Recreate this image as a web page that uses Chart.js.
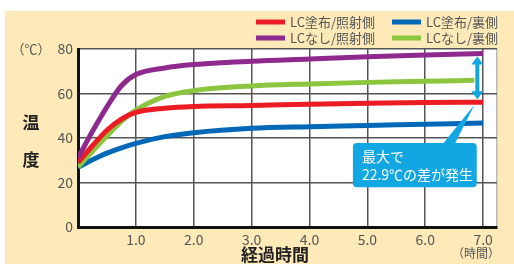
<!DOCTYPE html>
<html>
<head>
<meta charset="utf-8">
<script src="https://cdn.jsdelivr.net/npm/chart.js@4.4.1/dist/chart.umd.min.js"></script>
<style>
	html, body { margin: 0; padding: 0; background: #fff; }
	#wrap { width: 514px; height: 264px; }
</style>
</head>
<body>
<div id="wrap"><canvas id="tempChart" width="514" height="264"></canvas></div>
<script>
// 経過時間 (時間)
const hours = [0, 0.25, 0.5, 0.75, 1.0, 1.5, 2.0, 3.0, 4.0, 5.0, 6.0, 7.0];
const greenHours = [0, 0.25, 0.5, 0.75, 1.0, 1.5, 2.0, 3.0, 4.0, 5.0, 6.0, 6.85];

// 温度 (℃)
const lcIrradiated = [29, 36.5, 43.5, 48.5, 51.5, 53.4, 54.2, 54.6, 55.2, 55.6, 55.9, 56.1];
const lcBack = [26.8, 30.2, 33.2, 35.6, 37.6, 40.6, 42.4, 44.4, 45.1, 45.6, 46.2, 46.7];
const noLcIrradiated = [31, 43, 54, 63.5, 68.5, 71.5, 73, 74.5, 75.5, 76.5, 77.3, 78];
const noLcBack = [27, 34, 41, 47.5, 52.5, 58.7, 61.3, 63.4, 64.3, 65, 65.5, 65.9];

const seriesNames = ["LC塗布/照射側", "LC塗布/裏側", "LCなし/照射側", "LCなし/裏側"];
const seriesColors = ["#ec1c24", "#0068b6", "#8e2a8e", "#8cc63e"];
const yTicks = [0, 20, 40, 60, 80];
const xTickLabels = ["1.0", "2.0", "3.0", "4.0", "5.0", "6.0", "7.0"];
const calloutLines = ["最大で", "22.9℃の差が発生"];

const jpFont = '"Noto Sans CJK JP", "Noto Sans", sans-serif';

function toPoints(xs, ys) {
	return xs.map(function (x, i) { return { x: x, y: ys[i] }; });
}

function makeSet(label, xs, ys, color) {
	return {
		label: label,
		data: toPoints(xs, ys),
		borderColor: color,
		backgroundColor: color,
		borderWidth: 5,
		pointRadius: 0,
		cubicInterpolationMode: 'monotone',
		fill: false
	};
}

const extras = {
	id: 'extras',
	beforeDraw: function (chart) {
		let ctx = chart.ctx;
		let a = chart.chartArea;
		ctx.save();
		ctx.fillStyle = '#fff';
		ctx.fillRect(0, 0, chart.width, chart.height);
		ctx.fillStyle = '#feeab9';
		ctx.fillRect(5, 11, chart.width - 5, chart.height - 11);
		ctx.fillStyle = '#fff';
		ctx.fillRect(a.left, a.top, a.right - a.left, a.bottom - a.top);
		ctx.restore();
	},
	afterDraw: function (chart) {
		let ctx = chart.ctx;
		let xs = chart.scales.x;
		let ys = chart.scales.y;
		ctx.save();

		// legend (2 x 2)
		let legendPos = [[256, 22], [392, 22], [256, 38], [392, 38]];
		ctx.font = '13px ' + jpFont;
		ctx.textBaseline = 'middle';
		ctx.textAlign = 'left';
		seriesNames.forEach(function (name, i) {
			let p = legendPos[i];
			ctx.fillStyle = seriesColors[i];
			ctx.fillRect(p[0], p[1] - 2.5, 29, 5);
			ctx.fillStyle = '#555';
			ctx.fillText(name, p[0] + 34, p[1] + 0.5);
		});

		// axis titles
		ctx.fillStyle = '#555';
		ctx.font = '13px ' + jpFont;
		ctx.textAlign = 'center';
		ctx.fillText('（℃）', 31, 49);
		ctx.fillStyle = '#222';
		ctx.font = 'bold 17px ' + jpFont;
		ctx.fillText('温', 31, 123);
		ctx.fillText('度', 31, 160);
		ctx.fillText('経過時間', 275, 255);
		ctx.fillStyle = '#555';
		ctx.font = '12px ' + jpFont;
		ctx.fillText('（時間）', 476, 253);

		// double arrow between max lines
		let ax = xs.getPixelForValue(6.9);
		let yTop = ys.getPixelForValue(noLcIrradiated[noLcIrradiated.length - 1]) + 3;
		let yBot = ys.getPixelForValue(lcIrradiated[lcIrradiated.length - 1]) - 3;
		ctx.fillStyle = '#12a7e3';
		ctx.fillRect(ax - 2, yTop + 6, 4, yBot - yTop - 12);
		ctx.beginPath();
		ctx.moveTo(ax, yTop);
		ctx.lineTo(ax + 6, yTop + 8);
		ctx.lineTo(ax - 6, yTop + 8);
		ctx.closePath();
		ctx.fill();
		ctx.beginPath();
		ctx.moveTo(ax, yBot);
		ctx.lineTo(ax + 6, yBot - 8);
		ctx.lineTo(ax - 6, yBot - 8);
		ctx.closePath();
		ctx.fill();

		// callout
		let bx0 = xs.getPixelForValue(4.75);
		let bx1 = xs.getPixelForValue(6.89);
		let by0 = ys.getPixelForValue(37.8);
		let by1 = ys.getPixelForValue(17.9);
		ctx.beginPath();
		ctx.roundRect(bx0, by0, bx1 - bx0, by1 - by0, 4);
		ctx.fill();
		ctx.beginPath();
		ctx.moveTo(bx1 - 34, by0 + 1);
		ctx.lineTo(xs.getPixelForValue(6.85), ys.getPixelForValue(55));
		ctx.lineTo(bx1 - 22, by0 + 1);
		ctx.closePath();
		ctx.fill();
		ctx.fillStyle = '#fff';
		ctx.font = '14px ' + jpFont;
		ctx.textAlign = 'left';
		ctx.fillText(calloutLines[0], bx0 + 9, by0 + 14);
		ctx.fillText(calloutLines[1], bx0 + 9, by0 + 32);

		ctx.restore();
	}
};

const ctx = document.getElementById('tempChart').getContext('2d');
let chart = null;
chart = new Chart(ctx, {
	type: 'line',
	data: {
		datasets: [
			makeSet(seriesNames[2], hours, noLcIrradiated, seriesColors[2]),
			makeSet(seriesNames[0], hours, lcIrradiated, seriesColors[0]),
			makeSet(seriesNames[3], greenHours, noLcBack, seriesColors[3]),
			makeSet(seriesNames[1], hours, lcBack, seriesColors[1])
		]
	},
	options: {
		responsive: false,
		animation: false,
		layout: { padding: { left: 0, top: 49, right: 17, bottom: 0 } },
		plugins: {
			legend: { display: false },
			tooltip: { enabled: false }
		},
		scales: {
			x: {
				type: 'linear',
				min: 0,
				max: 7.24,
				afterFit: function (s) { s.height = 37; },
				afterBuildTicks: function (s) {
					s.ticks = [0, 1, 2, 3, 4, 5, 6, 7, 7.24].map(function (v) { return { value: v }; });
				},
				ticks: {
					autoSkip: false,
					maxRotation: 0,
					padding: 4,
					color: '#555',
					font: { family: jpFont, size: 14 },
					callback: function (v) {
						let i = Math.round(v) - 1;
						return (v >= 1 && v <= 7 && Number.isInteger(v)) ? xTickLabels[i] : '';
					}
				},
				grid: {
					drawTicks: false,
					color: function (c) { return c.tick && c.tick.value > 7 ? '#bbb' : '#555'; },
					lineWidth: 1.5
				},
				border: { display: true, color: '#111', width: 3 }
			},
			y: {
				min: 0,
				max: 80,
				afterFit: function (s) { s.width = 78; },
				afterBuildTicks: function (s) {
					s.ticks = yTicks.map(function (v) { return { value: v }; });
				},
				ticks: {
					padding: 5,
					color: '#555',
					font: { family: jpFont, size: 14 }
				},
				grid: {
					drawTicks: false,
					color: '#555',
					lineWidth: 1.5
				},
				border: { display: true, color: '#111', width: 3 }
			}
		}
	},
	plugins: [extras]
});
</script>
</body>
</html>
